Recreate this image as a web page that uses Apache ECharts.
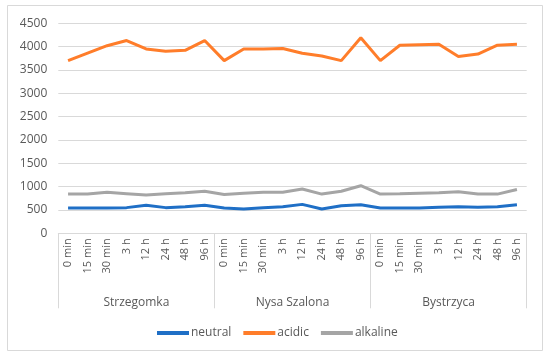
<!DOCTYPE html>
<html>
<head>
<meta charset="utf-8">
<script src="https://cdn.jsdelivr.net/npm/echarts@6/dist/echarts.min.js"></script>
<style>html,body{margin:0;padding:0;background:#fff}#c{width:550px;height:357px}</style>
</head>
<body>
<div id="c"></div>
<script>
const timePoints = ['0 min','15 min','30 min','3 h','12 h','24 h','48 h','96 h'];
const groups = ['Strzegomka','Nysa Szalona','Bystrzyca'];
const neutral = [540,540,540,550,600,550,570,600, 540,520,550,570,620,520,590,610, 540,540,540,560,570,560,570,610];
const acidic = [3700,3860,4020,4130,3950,3900,3920,4130, 3700,3950,3950,3960,3860,3800,3700,4190, 3700,4030,4040,4050,3790,3840,4030,4050];
const alkaline = [840,840,880,850,820,850,870,900, 830,860,880,880,950,840,900,1020, 840,845,860,870,890,840,840,940];
const yTicks = {min:0, max:4500, interval:500};

const categories = [];
groups.forEach(g => timePoints.forEach(t => categories.push(t)));

const font = 'Open Sans';
const chart = echarts.init(document.getElementById('c'), null, {renderer:'canvas'});
chart.setOption({
  animation:false,
  backgroundColor:'#fff',
  textStyle:{fontFamily:font},
  graphic:[{type:'rect', shape:{x:7.5,y:5.5,width:535,height:345}, style:{fill:'none',stroke:'#d9d9d9',lineWidth:1}, silent:true, z:-1}],
  grid:{left:58.3, right:23.3, top:23.3, bottom:123.7, containLabel:false},
  legend:{
    data:['neutral','acidic','alkaline'], left:152, top:322,
    icon:'rect', itemWidth:32, itemHeight:4, itemGap:12,
    textStyle:{color:'#595959', fontSize:12, fontFamily:font, padding:[0,0,0,-3]}
  },
  xAxis:[
    {type:'category', data:categories, boundaryGap:true,
     axisLine:{show:true, lineStyle:{color:'#d9d9d9'}},
     axisTick:{show:false},
     axisLabel:{rotate:90, interval:0, margin:5, color:'#595959', fontSize:11, fontFamily:font}},
    {type:'category', data:groups, position:'bottom', boundaryGap:true,
     axisLine:{show:false},
     axisTick:{show:true, length:75, lineStyle:{color:'#d9d9d9'}},
     axisLabel:{interval:0, margin:63, color:'#595959', fontSize:12, fontFamily:font},
     splitLine:{show:false}}
  ],
  yAxis:{type:'value', min:yTicks.min, max:yTicks.max, interval:yTicks.interval,
    axisLine:{show:false}, axisTick:{show:false},
    axisLabel:{margin:11, color:'#595959', fontSize:12, fontFamily:font, formatter:v => String(v)},
    splitLine:{lineStyle:{color:'#d9d9d9', width:1}}},
  series:[
    {name:'neutral', type:'line', data:neutral, showSymbol:false, lineStyle:{width:3, color:'#1f6fc6'}, itemStyle:{color:'#1f6fc6'}},
    {name:'acidic', type:'line', data:acidic, showSymbol:false, lineStyle:{width:3, color:'#ff7d2a'}, itemStyle:{color:'#ff7d2a'}},
    {name:'alkaline', type:'line', data:alkaline, showSymbol:false, lineStyle:{width:3, color:'#a5a5a5'}, itemStyle:{color:'#a5a5a5'}}
  ]
});
</script>
</body>
</html>
